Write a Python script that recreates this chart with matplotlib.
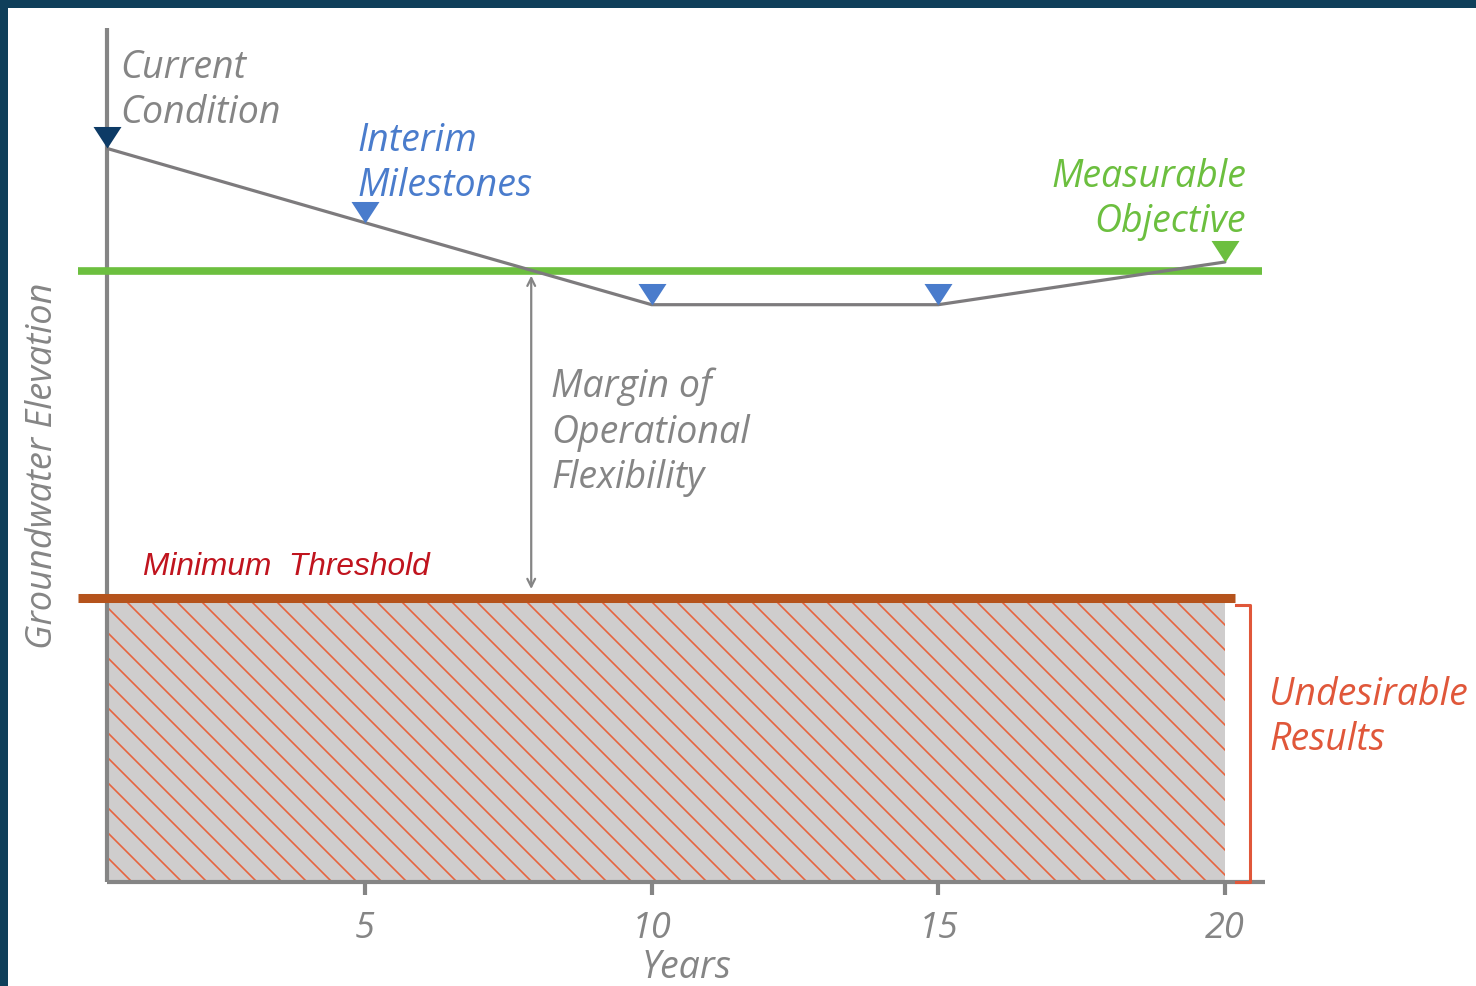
import numpy as np
import matplotlib
matplotlib.use("Agg")
import matplotlib.pyplot as plt
import matplotlib.patches as patches
from matplotlib.path import Path

# Data (elevation in arbitrary units, 0 = x-axis, 100 = top of y-axis)
years = [0.5, 5, 10, 15, 20]
elevation = [85.9, 77.2, 67.6, 67.6, 72.6]
marker_kind = ["current", "interim", "interim", "interim", "objective"]
objective_level = 71.5
threshold_level = 33.3
xticks = [5, 10, 15, 20]
xlim = (0.5, 20.7)
ylim = (0, 100)

W, H = 1476, 986
GRAY = "#858585"
GREEN = "#6cbf3f"
BLUE = "#4a7ccc"
NAVY = "#0d3b66"
RUST = "#b5531c"
RED = "#e0573a"
DARKRED = "#c0141e"
FONT = "Open Sans"


def fx(px):
    return px / W


def fy(py):
    return 1 - py / H


fig = plt.figure(figsize=(W / 100, H / 100), dpi=100, facecolor="#0f3f5a")
# white canvas inside the dark frame
fig.patches.append(patches.Rectangle((fx(8), 0), 1 - fx(8), fy(8), transform=fig.transFigure,
                                     facecolor="white", edgecolor="none", zorder=-5))

ax_l, ax_r, ax_t, ax_b = 107, 1265, 28, 882
ax = fig.add_axes([fx(ax_l), fy(ax_b), fx(ax_r - ax_l), (ax_b - ax_t) / H])
ax.set_zorder(2)
ax.set_facecolor("none")
ax.set_xlim(*xlim)
ax.set_ylim(*ylim)
for s in ["top", "right"]:
    ax.spines[s].set_visible(False)
for s in ["left", "bottom"]:
    ax.spines[s].set_color(GRAY)
    ax.spines[s].set_linewidth(3)
    ax.spines[s].set_capstyle("butt")
ax.set_yticks([])
ax.set_xticks(xticks)
ax.set_xticklabels([str(t) for t in xticks], fontfamily=FONT, fontstyle="italic",
                   fontsize=26, color=GRAY)
ax.tick_params(axis="x", direction="out", length=9, width=3, color=GRAY, pad=12)

# undesirable results zone: grey box with hand-made hatch
zone = patches.Rectangle((xlim[0], 0), years[-1] - xlim[0], threshold_level - 0.4,
                         facecolor="#cfcdcd", edgecolor="none", zorder=1)
ax.add_patch(zone)
px_per_year = (ax_r - ax_l) / (xlim[1] - xlim[0])
px_per_unit = (ax_b - ax_t) / (ylim[1] - ylim[0])
slope = px_per_year / px_per_unit
step = 25 / px_per_year
span = threshold_level / slope
for x0 in np.arange(xlim[0] - span, years[-1], step):
    ln, = ax.plot([x0, x0 + span], [threshold_level, 0], color="#e6643f", lw=1.2, zorder=2)
    ln.set_clip_path(zone)

# objective and threshold lines
ax.plot([0.0, 20.65], [objective_level] * 2, color=GREEN, lw=5.5, clip_on=False,
        solid_capstyle="butt", zorder=3)
ax.plot([0.0, 20.17], [threshold_level] * 2, color=RUST, lw=6.5, clip_on=False,
        solid_capstyle="butt", zorder=4)

# groundwater path
ax.plot(years, elevation, color="#7d7b7d", lw=2.3, zorder=5, clip_on=False,
        solid_capstyle="round")

# down-pointing triangles with the tip on the line
tri = Path([(-1.3, 2), (1.3, 2), (0, 0), (-1.3, 2)],
           [Path.MOVETO, Path.LINETO, Path.LINETO, Path.CLOSEPOLY])
colors = {"current": NAVY, "interim": BLUE, "objective": GREEN}
for x, y, k in zip(years, elevation, marker_kind):
    ax.plot(x, y, marker=tri, markersize=31, color=colors[k], zorder=6, clip_on=False,
            markeredgewidth=0)

# margin of operational flexibility arrow
ax.annotate("", xy=(7.9, objective_level - 0.5), xytext=(7.9, threshold_level + 1.0),
            arrowprops=dict(arrowstyle="<->", color=GRAY, lw=1.6, shrinkA=0, shrinkB=0,
                            mutation_scale=14), zorder=4)

# undesirable results bracket
bx = 20.44
ax.plot([bx - 0.24, bx, bx, bx - 0.24], [threshold_level - 0.9, threshold_level - 0.9, 0, 0],
        color=RED, lw=2.2, clip_on=False, zorder=4)

# labels
txt = dict(fontfamily=FONT, fontstyle="italic", fontsize=27, linespacing=1.25)
fig.text(fx(120), fy(123), "Current\nCondition", color=GRAY, va="baseline", **txt)
fig.text(fx(357), fy(196), "Interim\nMilestones", color=BLUE, va="baseline", **txt)
fig.text(fx(1246), fy(232), "Measurable\nObjective", color=GREEN, va="baseline",
         ha="right", multialignment="right", **txt)
fig.text(fx(551), fy(488), "Margin of\nOperational\nFlexibility", color=GRAY, va="baseline", **txt)
fig.text(fx(1269), fy(750), "Undesirable\nResults", color=RED, va="baseline", **txt)
fig.text(fx(143), fy(575), "Minimum  Threshold", color=DARKRED, va="baseline",
         fontfamily="Liberation Sans", fontstyle="italic", fontsize=22.8)
fig.text(fx(686), fy(978), "Years", color=GRAY, va="baseline", ha="center",
         fontfamily=FONT, fontstyle="italic", fontsize=27)
fig.text(fx(43), fy(466), "Groundwater Elevation", color=GRAY, va="center", ha="center",
         rotation=90, fontfamily=FONT, fontstyle="italic", fontsize=26)

fig.savefig("out.png", dpi=100, facecolor=fig.get_facecolor())
